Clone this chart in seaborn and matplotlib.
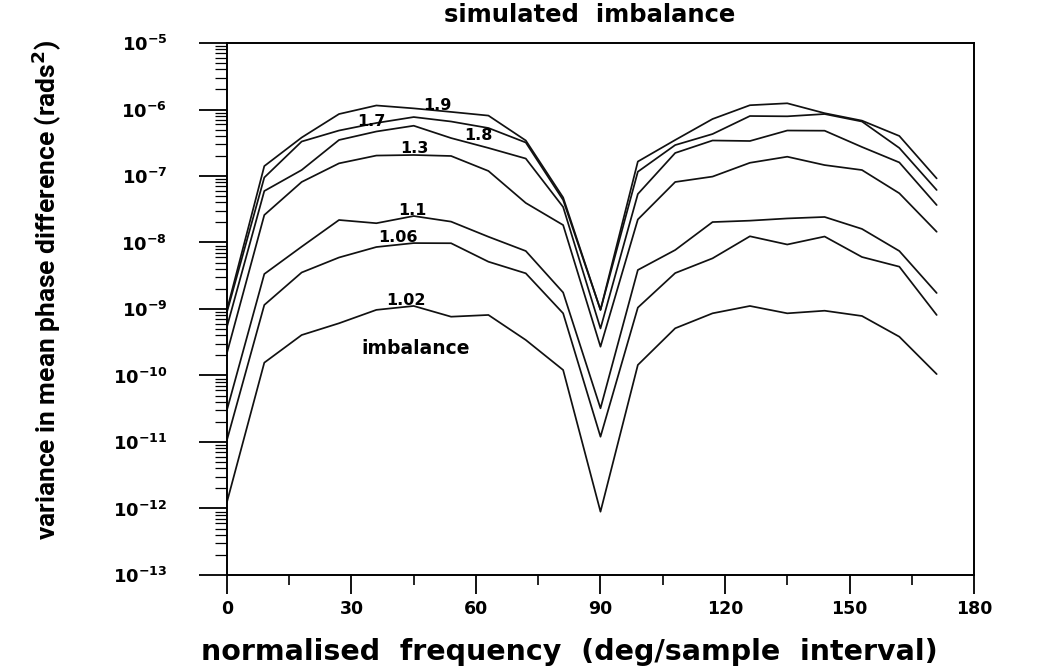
import numpy as np
import pandas as pd
import matplotlib
matplotlib.use("Agg")
import matplotlib.pyplot as plt
import seaborn as sns
from matplotlib.ticker import LogLocator, MultipleLocator, NullFormatter

# ---------------- data ----------------
freq = [0, 9, 18, 27, 36, 45, 54, 63, 72, 81, 90, 99, 108, 117, 126, 135, 144, 153, 162, 171]

var_1_9 = [9.7e-10, 1.41e-7, 3.79e-7, 8.55e-7, 1.15e-6, 1.04e-6, 9.2e-7, 8.1e-7, 3.42e-7, 4.75e-8,
           9.7e-10, 1.65e-7, 3.48e-7, 7.2e-7, 1.16e-6, 1.24e-6, 8.8e-7, 6.8e-7, 4.0e-7, 9.2e-8]
var_1_7 = [9.0e-10, 9.5e-8, 3.3e-7, 4.83e-7, 6.27e-7, 7.7e-7, 6.6e-7, 5.27e-7, 3.19e-7, 4.36e-8,
           9.7e-10, 1.16e-7, 2.92e-7, 4.28e-7, 7.98e-7, 7.9e-7, 8.55e-7, 6.6e-7, 2.64e-7, 6.16e-8]
var_1_8 = [5.4e-10, 5.95e-8, 1.23e-7, 3.48e-7, 4.67e-7, 5.7e-7, 3.72e-7, 2.64e-7, 1.83e-7, 3.42e-8,
           5.1e-10, 5.36e-8, 2.22e-7, 3.42e-7, 3.36e-7, 4.83e-7, 4.8e-7, 2.73e-7, 1.6e-7, 3.66e-8]
var_1_3 = [2.18e-10, 2.59e-8, 8.13e-8, 1.55e-7, 2.03e-7, 2.07e-7, 2.0e-7, 1.19e-7, 3.93e-8, 1.83e-8,
           2.71e-10, 2.22e-8, 8.13e-8, 9.8e-8, 1.58e-7, 1.95e-7, 1.46e-7, 1.23e-7, 5.5e-8, 1.45e-8]
var_1_1 = [3.03e-11, 3.36e-9, 8.65e-9, 2.18e-8, 1.95e-8, 2.5e-8, 2.06e-8, 1.22e-8, 7.45e-9, 1.77e-9,
           3.21e-11, 3.86e-9, 7.71e-9, 2.03e-8, 2.13e-8, 2.3e-8, 2.42e-8, 1.6e-8, 7.45e-9, 1.74e-9]
var_1_06 = [1.07e-11, 1.15e-9, 3.54e-9, 5.95e-9, 8.55e-9, 9.8e-9, 9.75e-9, 5.14e-9, 3.44e-9, 8.61e-10,
            1.2e-11, 1.05e-9, 3.47e-9, 5.78e-9, 1.24e-8, 9.33e-9, 1.23e-8, 6.05e-9, 4.33e-9, 8.13e-10]
var_1_02 = [1.25e-12, 1.56e-10, 4.06e-10, 6.1e-10, 9.7e-10, 1.11e-9, 7.66e-10, 8.13e-10, 3.42e-10, 1.21e-10,
            8.95e-13, 1.44e-10, 5.13e-10, 8.61e-10, 1.11e-9, 8.61e-10, 9.42e-10, 7.85e-10, 3.83e-10, 1.05e-10]

series_names = ["1.9", "1.7", "1.8", "1.3", "1.1", "1.06", "1.02"]
series_values = [var_1_9, var_1_7, var_1_8, var_1_3, var_1_1, var_1_06, var_1_02]

x_ticks = [0, 30, 60, 90, 120, 150, 180]

title_text = "simulated  imbalance"
xlabel_text = "normalised  frequency  (deg/sample  interval)"
ylabel_text = "variance in mean phase difference (rads$^{2}$)"
extra_label = "imbalance"

# ---------------- build long-form table ----------------
rows = []
for name, vals in zip(series_names, series_values):
    for f, v in zip(freq, vals):
        rows.append({"freq": f, "variance": v, "imbalance": name})
df = pd.DataFrame(rows)

# ---------------- style ----------------
sns.set_style("ticks")
plt.rcParams["font.family"] = ["DejaVu Sans"]
plt.rcParams["font.weight"] = "bold"
plt.rcParams["mathtext.fontset"] = "dejavusans"
plt.rcParams["mathtext.default"] = "bf"
plt.rcParams["text.color"] = "black"
plt.rcParams["axes.labelcolor"] = "black"
plt.rcParams["xtick.color"] = "black"
plt.rcParams["ytick.color"] = "black"

fig = plt.figure(figsize=(10.63, 6.71), dpi=100)
ax = fig.add_axes([0.2135, 0.1431, 0.7028, 0.7928])

sns.lineplot(data=df, x="freq", y="variance", hue="imbalance",
             palette={n: "#111111" for n in series_names},
             estimator=None, sort=False, legend=False, linewidth=1.25, ax=ax)

ax.set_yscale("log")
ax.set_ylim(1e-13, 1e-5)
ax.set_xlim(0, 180)

ax.xaxis.set_minor_locator(MultipleLocator(15))
ax.set_xticks(x_ticks)
ax.set_xticklabels([str(t) for t in x_ticks])

ax.yaxis.set_major_locator(LogLocator(base=10, numticks=20))
ax.yaxis.set_minor_locator(LogLocator(base=10, subs=np.arange(2, 10), numticks=20))
ax.yaxis.set_minor_formatter(NullFormatter())

ax.tick_params(axis="x", which="major", direction="out", length=14, width=1.3,
               labelsize=12.5, pad=4)
ax.tick_params(axis="x", which="minor", direction="out", length=7, width=1.2)
ax.tick_params(axis="y", which="major", direction="out", length=20, width=1.3,
               labelsize=13, pad=23)
ax.tick_params(axis="y", which="minor", direction="out", length=9, width=0.9)

for s in ax.spines.values():
    s.set_linewidth(1.4)
    s.set_color("black")

ax.set_xlabel(xlabel_text, fontsize=20.5, fontweight="bold")
ax.xaxis.set_label_coords(0.459, -0.118)
ax.set_ylabel(ylabel_text, fontsize=19, fontweight="bold",
              family=["Roboto", "DejaVu Sans"])
ax.yaxis.set_label_coords(-0.218, 0.536)

ax.text(0.486, 1.052, title_text, transform=ax.transAxes, ha="center", va="center",
        fontsize=17.5, fontweight="bold")

# curve labels (positions in data coordinates)
label_pos = {
    "1.9": (50.6, 1.13e-6),
    "1.7": (34.9, 6.6e-7),
    "1.8": (60.5, 4.0e-7),
    "1.3": (45.1, 2.55e-7),
    "1.1": (44.6, 2.98e-8),
    "1.06": (41.2, 1.17e-8),
    "1.02": (43.1, 1.36e-9),
}
for name in series_names:
    px, py = label_pos[name]
    ax.text(px, py, name, ha="center", va="center", fontsize=11.5, fontweight="bold")
ax.text(45.5, 2.55e-10, extra_label, ha="center", va="center", fontsize=13.5, fontweight="bold")

fig.savefig("out.png", dpi=100, facecolor="white")
